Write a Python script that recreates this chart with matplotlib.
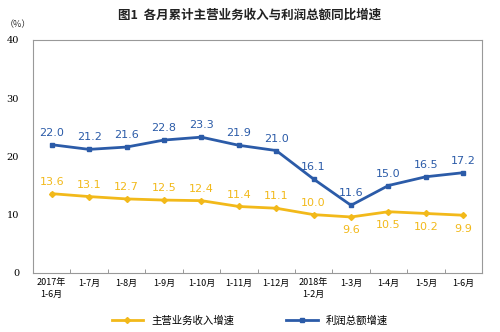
import matplotlib
matplotlib.use("Agg")
import matplotlib.pyplot as plt

plt.rcParams['font.family'] = ['Noto Sans CJK SC', 'DejaVu Sans']

categories = ["2017年\n1-6月", "1-7月", "1-8月", "1-9月", "1-10月", "1-11月", "1-12月",
              "2018年\n1-2月", "1-3月", "1-4月", "1-5月", "1-6月"]
revenue = [13.6, 13.1, 12.7, 12.5, 12.4, 11.4, 11.1, 10.0, 9.6, 10.5, 10.2, 9.9]
profit = [22.0, 21.2, 21.6, 22.8, 23.3, 21.9, 21.0, 16.1, 11.6, 15.0, 16.5, 17.2]
revenue_below = [False] * 8 + [True] * 4
yticks = [0, 10, 20, 30, 40]

YEL = "#F2B91A"
BLUE = "#2B5BA8"

fig = plt.figure(figsize=(5.0, 3.32), dpi=100)
ax = fig.add_axes([0.066, 0.178, 0.898, 0.702])
x = list(range(len(categories)))

ax.plot(x, revenue, color=YEL, lw=2, marker='D', ms=3, label="主营业务收入增速")
ax.plot(x, profit, color=BLUE, lw=2, marker='s', ms=3, label="利润总额增速")

for xi, v, below in zip(x, revenue, revenue_below):
    if below:
        ax.annotate(f"{v:.1f}", (xi, v), xytext=(0, -6), textcoords='offset points',
                    ha='center', va='top', color=YEL, fontsize=8, family='DejaVu Sans')
    else:
        ax.annotate(f"{v:.1f}", (xi, v), xytext=(0, 5), textcoords='offset points',
                    ha='center', va='bottom', color=YEL, fontsize=8, family='DejaVu Sans')
for xi, v in zip(x, profit):
    ax.annotate(f"{v:.1f}", (xi, v), xytext=(0, 5), textcoords='offset points',
                ha='center', va='bottom', color=BLUE, fontsize=8, family='DejaVu Sans')

ax.set_xlim(-0.5, len(categories) - 0.5)
ax.set_ylim(0, 40)
ax.set_yticks(yticks)
ax.set_yticklabels([str(t) for t in yticks], fontsize=7, family='DejaVu Serif')
ax.tick_params(axis='y', length=0, pad=10)
ax.set_xticks(x)
ax.set_xticklabels(categories, fontsize=6.5, va='top', ha='center', linespacing=1.3)
ax.tick_params(axis='x', length=0, pad=4)
ax.set_xticks([i + 0.5 for i in x[:-1]], minor=True)
ax.tick_params(axis='x', which='minor', direction='in', length=3, color='#888888')
for s in ax.spines.values():
    s.set_color('#999999')
    s.set_linewidth(0.8)

fig.text(0.5, 0.955, "图1  各月累计主营业务收入与利润总额同比增速", ha='center', va='center',
         fontsize=9, fontweight='bold', color='#222222')
fig.text(0.035, 0.925, "（%）", ha='center', va='center', fontsize=6.5, color='#333333')

leg = fig.legend(loc='center', bbox_to_anchor=(0.5, 0.035), ncol=2, frameon=False,
                 fontsize=7.5, handlelength=3, columnspacing=5)

fig.savefig("out.png", dpi=100)
